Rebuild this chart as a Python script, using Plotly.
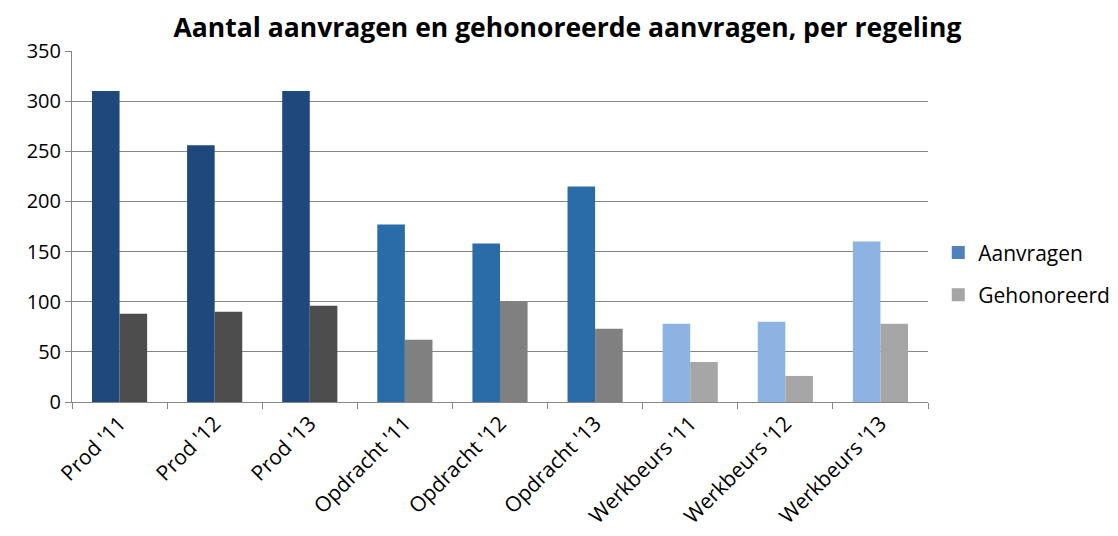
import plotly.graph_objects as go

categories = ["Prod '11", "Prod '12", "Prod '13", "Opdracht '11", "Opdracht '12",
              "Opdracht '13", "Werkbeurs '11", "Werkbeurs '12", "Werkbeurs '13"]
aanvragen = [310, 256, 310, 177, 158, 215, 78, 80, 160]
gehonoreerd = [88, 90, 96, 62, 100, 73, 40, 26, 78]

aanvragen_colors = ["#1F497D"] * 3 + ["#2A6CA8"] * 3 + ["#8DB3E2"] * 3
gehonoreerd_colors = ["#4D4D4D"] * 3 + ["#808080"] * 3 + ["#A6A6A6"] * 3
legend_names = ["Aanvragen", "Gehonoreerd"]
legend_colors = ["#4F81BD", "#A5A5A5"]

FONT = "Open Sans"

fig = go.Figure()
fig.add_trace(go.Bar(x=categories, y=aanvragen, marker=dict(color=aanvragen_colors, line=dict(width=0)),
                     showlegend=False, name=legend_names[0]))
fig.add_trace(go.Bar(x=categories, y=gehonoreerd, marker=dict(color=gehonoreerd_colors, line=dict(width=0)),
                     showlegend=False, name=legend_names[1]))
for i, (n, c) in enumerate(zip(legend_names, legend_colors)):
    fig.add_trace(go.Scatter(x=[None], y=[None], name=n, mode="markers",
                             marker=dict(color=c, symbol="square", size=13),
                             legendgroup=f"g{i}"))

# page body has an 8px default margin, so the figure is sized to fit the window
fig.update_layout(
    width=1110, height=528,
    margin=dict(l=64, r=190, t=43, b=134, autoexpand=False),
    paper_bgcolor="white", plot_bgcolor="white",
    barmode="group", bargap=0.42, bargroupgap=0,
    title=dict(text="<b>Aantal aanvragen en gehonoreerde aanvragen, per regeling</b>",
               x=0.504, xanchor="center", y=0.962, yanchor="middle", yref="container",
               font=dict(family=FONT, size=26.5, color="black")),
    font=dict(family=FONT, size=21, color="black"),
    legend=dict(x=1.012, xanchor="left", y=0.365, yanchor="middle", traceorder="grouped",
                tracegroupgap=12, font=dict(size=21), itemwidth=30),
    xaxis=dict(type="category", showline=True, linecolor="#868686", linewidth=1,
               ticks="outside", ticklen=6, tickcolor="#868686", tickson="boundaries",
               tickangle=-45, showgrid=False, tickfont=dict(size=21), automargin=False),
    yaxis=dict(range=[0, 350], dtick=50, showline=True, linecolor="#868686", linewidth=1,
               ticks="outside", ticklen=6, tickcolor="#868686",
               showgrid=True, gridcolor="#868686", gridwidth=1, zeroline=False,
               tickfont=dict(size=20), automargin=False),
)

fig.write_html("out.html")
